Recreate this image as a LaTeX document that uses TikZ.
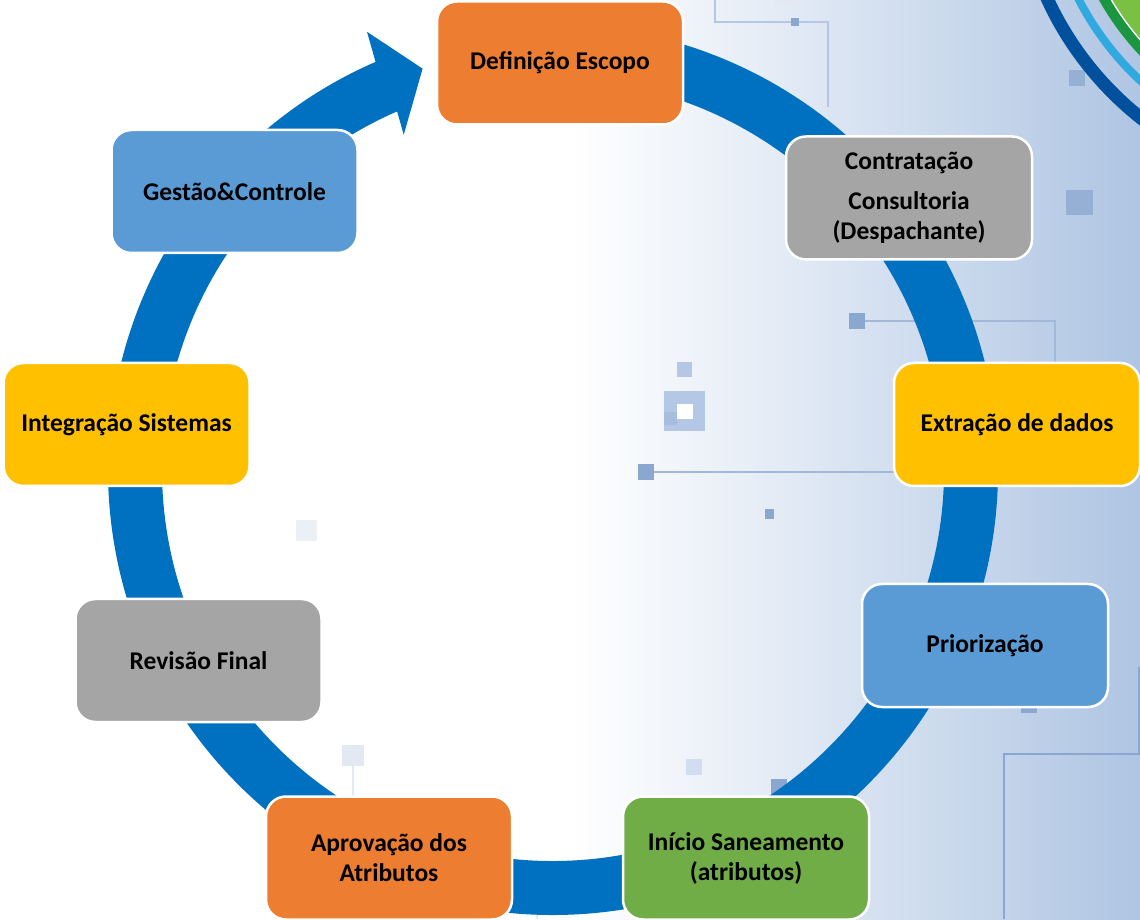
\documentclass[tikz,border=0pt]{standalone}
\usepackage{fontspec}
\setmainfont{Carlito}
\usetikzlibrary{calc}
\definecolor{ringblue}{HTML}{0070C0}
\definecolor{boxorange}{HTML}{ED7D31}
\definecolor{boxgray}{HTML}{A5A5A5}
\definecolor{boxyellow}{HTML}{FFC000}
\definecolor{boxblue}{HTML}{5B9BD5}
\definecolor{boxgreen}{HTML}{70AD47}
\definecolor{bgmid}{HTML}{E6EDF6}
\definecolor{bgright}{HTML}{AFC5E3}
\definecolor{decline}{HTML}{A2B8D8}
\definecolor{decdark}{HTML}{8AA7CF}
\definecolor{declight}{HTML}{B4C7E4}
\definecolor{decfaint}{HTML}{E2E9F3}
\definecolor{cdblue}{HTML}{00509E}
\definecolor{clblue}{HTML}{2FA9DF}
\definecolor{cdgreen}{HTML}{1B9640}
\definecolor{clgreen}{HTML}{7AC143}
\tikzset{
  stagebox/.style={rectangle, rounded corners=20pt, minimum width=246pt,
    minimum height=123pt, draw=white, line width=2.5pt, text=black,
    font=\fontsize{25.5}{30}\selectfont\bfseries, align=center, inner sep=2pt},
  decsq/.style={fill=decdark},
  declt/.style={fill=declight},
  decfn/.style={fill=decfaint},
  decln/.style={draw=decline, line width=1.6pt},
  cyclering/.style={draw=ringblue, line width=54pt},
}
\begin{document}
\begin{tikzpicture}[x=1pt,y=1pt]
\useasboundingbox (0,0) rectangle (1140,919);
\begin{scope}
\clip (0,0) rectangle (1140,919);
% background
\fill[white] (0,0) rectangle (1140,919);
\shade[left color=white, right color=bgmid] (570,0) rectangle (760,919);
\shade[left color=bgmid, right color=bgright] (760,0) rectangle (1140.5,919);
% decorations (circuit lines and squares)
\draw[decln, draw=declight] (715,919) -- (715,897) -- (828,897) -- (828,812);
\fill[decsq] (791,893) rectangle (799,901);
\fill[decfn] (775,914) rectangle (797,936);
\fill[decsq, fill=decdark!90] (1069,833) rectangle (1085,849);
\fill[decsq, fill=decdark!90] (1066,704) rectangle (1093,729);
\draw[decln] (865,598) -- (1055,598) -- (1055,556);
\fill[decsq] (849,590) rectangle (865,606);
\fill[declt] (677,542) rectangle (692,557);
\fill[declt] (664,488) rectangle (705,528);
\fill[fill=declight!70!decdark] (664,494) rectangle (677,507);
\fill[white] (677,500) rectangle (693,515);
\draw[decln] (654,447) -- (895,447);
\fill[decsq] (638,439) rectangle (654,455);
\fill[decsq] (765,400) rectangle (774,410);
\fill[decfn, fill=decfaint!70] (296,378) rectangle (317,399);
\fill[decsq] (1021,206) rectangle (1037,219);
\draw[decln, draw=decdark] (1004,0) -- (1004,165) -- (1140,165);
\draw[decln, draw=decdark] (1139,165) -- (1139,252);
\draw[decln, draw=decfaint] (353,153) -- (353,122);
\fill[decfn] (342,153) rectangle (364,174);
\fill[decfn, fill=declight!60] (686,144) rectangle (702,160);
\draw[decln] (787,132) -- (812,132);
\fill[decsq] (771,124) rectangle (787,140);
\draw[decln, draw=decfaint] (537,0) -- (537,56) -- (624,56);
% corner rings
\fill[clgreen] (1342,1055) circle[radius=267];
\draw[white, line width=2pt] (1342,1055) circle[radius=268];
\draw[cdgreen, line width=10pt] (1342,1055) circle[radius=273.5];
\draw[clblue, line width=8pt] (1342,1055) circle[radius=296];
\draw[cdblue, line width=13pt] (1342,1055) circle[radius=324];
% cycle ring with arrow head
\coordinate (cc) at (553,449);
\draw[cyclering] ($(cc)+(95:418)$) arc[start angle=95, end angle=-247, radius=418];
\fill[ringblue] ($(cc)+(113.5:445)$) -- ($(cc)+(113:476)$) -- ($(cc)+(108:422)$)
  -- ($(cc)+(114:367)$) -- ($(cc)+(113.5:391)$) -- cycle;
\end{scope}
% stages
\node[stagebox, fill=boxorange] (s1) at (560,856) {Definição Escopo};
\node[stagebox, fill=boxgray] (s2) at (909,721) {Contratação\\[10pt]Consultoria\\(Despachante)};
\node[stagebox, fill=boxyellow] (s3) at (1017,494.5) {Extração de dados};
\node[stagebox, fill=boxblue] (s4) at (985,273.5) {Priorização};
\node[stagebox, fill=boxgreen] (s5) at (746,61) {Início Saneamento\\(atributos)};
\node[stagebox, fill=boxorange] (s6) at (389,61) {Aprovação dos\\Atributos};
\node[stagebox, fill=boxgray] (s7) at (198.5,258.5) {Revisão Final};
\node[stagebox, fill=boxyellow] (s8) at (126.5,494.5) {Integração Sistemas};
\node[stagebox, fill=boxblue] (s9) at (234.5,727.5) {Gestão\&Controle};
\end{tikzpicture}
\end{document}
